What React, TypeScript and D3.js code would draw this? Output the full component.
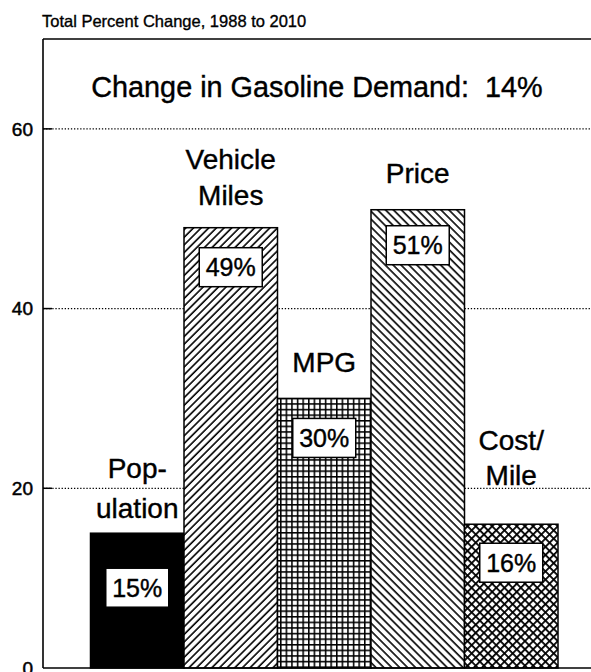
import React from "react";
import * as d3 from "d3";

const categories = ["Population", "Vehicle Miles", "MPG", "Price", "Cost/Mile"];
const values = [15, 49, 30, 51, 16];
const labelLines = [["Pop-", "ulation"], ["Vehicle", "Miles"], ["MPG"], ["Price"], ["Cost/", "Mile"]];
const percentLabels = ["15%", "49%", "30%", "51%", "16%"];
const yTicks = [0, 20, 40, 60];
const chartTitle = "Total Percent Change, 1988 to 2010";
const headline = "Change in Gasoline Demand:  14%";

// layout (not data)
const W = 591;
const H = 672;
const axisX = 43;
const topY = 39;
const baseY = 668;
const patterns = ["solid", "fwd", "grid", "back", "cross"];
const labelGap = [15, 23, 26, 27, 39];
const labelLH = [40, 36, 36, 36, 35];
const boxOffset = [35, 20, 20, 16, 19];
const FONT = "'Liberation Sans', Arial, Helvetica, sans-serif";

export default function App() {
  const x = d3.scaleBand<string>().domain(categories).range([90.5, 558]).padding(0);
  const y = d3.scaleLinear().domain([0, 70]).range([baseY, topY]);
  const bw = x.bandwidth();

  const fillFor = (p: string) => (p === "solid" ? "#000" : `url(#pat-${p})`);

  return (
    <svg
      width={W}
      height={H}
      viewBox={`0 0 ${W} ${H}`}
      style={{ position: "absolute", left: 0, top: 0, background: "#fff" }}
      fontFamily={FONT}
    >
      <defs>
        <pattern id="pat-fwd" patternUnits="userSpaceOnUse" width={5.4} height={5.4} patternTransform="rotate(45)">
          <rect width={5.4} height={5.4} fill="#fff" />
          <line x1={1} y1={0} x2={1} y2={5.4} stroke="#000" strokeWidth={1.6} />
        </pattern>
        <pattern id="pat-back" patternUnits="userSpaceOnUse" width={5.6} height={5.6} patternTransform="rotate(-45)">
          <rect width={5.6} height={5.6} fill="#fff" />
          <line x1={1} y1={0} x2={1} y2={5.6} stroke="#000" strokeWidth={1.6} />
        </pattern>
        <pattern id="pat-grid" patternUnits="userSpaceOnUse" width={5.6} height={5.6}>
          <rect width={5.6} height={5.6} fill="#fff" />
          <line x1={0.75} y1={0} x2={0.75} y2={5.6} stroke="#000" strokeWidth={1.6} />
          <line x1={0} y1={0.75} x2={5.6} y2={0.75} stroke="#000" strokeWidth={1.6} />
        </pattern>
        <pattern id="pat-cross" patternUnits="userSpaceOnUse" width={5.8} height={5.8} patternTransform="rotate(45)">
          <rect width={5.8} height={5.8} fill="#fff" />
          <line x1={0.9} y1={0} x2={0.9} y2={5.8} stroke="#000" strokeWidth={1.8} />
          <line x1={0} y1={0.9} x2={5.8} y2={0.9} stroke="#000" strokeWidth={1.8} />
        </pattern>
      </defs>

      <text x={42} y={27} fontSize={16.5} fill="#000" stroke="#000" strokeWidth={0.35}>{chartTitle}</text>

      {/* gridlines */}
      {yTicks.filter((t) => t > 0).map((t) => (
        <g key={t}>
          <line x1={axisX} x2={W} y1={y(t)} y2={y(t)} stroke="#000" strokeWidth={1.3} strokeDasharray="1.3,1.8" />
          <line x1={axisX} x2={axisX + 9} y1={y(t)} y2={y(t)} stroke="#000" strokeWidth={1.5} />
        </g>
      ))}

      {/* frame */}
      <line x1={axisX} x2={W} y1={topY} y2={topY} stroke="#000" strokeWidth={1.6} />
      <line x1={axisX} x2={axisX} y1={topY} y2={baseY} stroke="#000" strokeWidth={1.6} />

      {/* bars */}
      {categories.map((c, i) => (
        <rect
          key={c}
          x={x(c)}
          y={y(values[i])}
          width={bw}
          height={baseY - y(values[i])}
          fill={fillFor(patterns[i])}
          stroke="#000"
          strokeWidth={1.5}
        />
      ))}

      <line x1={axisX} x2={W} y1={baseY} y2={baseY} stroke="#000" strokeWidth={1.6} />

      {/* tick labels */}
      {yTicks.map((t) => (
        <text key={t} x={33} y={y(t)} dy="0.36em" textAnchor="end" fontSize={19} fill="#000" stroke="#000" strokeWidth={0.5}>
          {t}
        </text>
      ))}

      {/* headline */}
      <text x={317} y={97} textAnchor="middle" fontSize={28.8} fill="#000" stroke="#000" strokeWidth={0.4} style={{ whiteSpace: "pre" }}>
        {headline}
      </text>

      {/* category labels */}
      {categories.map((c, i) => {
        const cx = (x(c) as number) + bw / 2;
        const lines = labelLines[i];
        const lastBase = y(values[i]) - labelGap[i];
        return (
          <g key={c}>
            {lines.map((ln, j) => (
              <text
                key={j}
                x={cx}
                y={lastBase - (lines.length - 1 - j) * labelLH[i]}
                textAnchor="middle"
                fontSize={28}
                fill="#000"
                stroke="#000"
                strokeWidth={0.4}
              >
                {ln}
              </text>
            ))}
          </g>
        );
      })}

      {/* percent boxes */}
      {categories.map((c, i) => {
        const cx = (x(c) as number) + bw / 2;
        const top = y(values[i]) + boxOffset[i];
        const bwid = 63;
        const bh = 39;
        return (
          <g key={c}>
            <rect x={cx - bwid / 2} y={top} width={bwid} height={bh} fill="#fff" stroke="#000" strokeWidth={1.5} />
            <text x={cx} y={top + bh / 2} dy="0.36em" textAnchor="middle" fontSize={25} fill="#000" stroke="#000" strokeWidth={0.4}>
              {percentLabels[i]}
            </text>
          </g>
        );
      })}
    </svg>
  );
}
